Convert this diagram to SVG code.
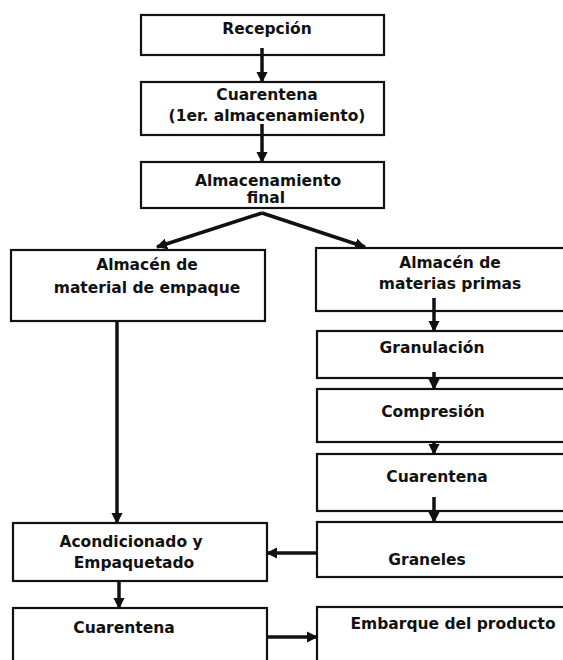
<svg xmlns="http://www.w3.org/2000/svg" width="563" height="660" viewBox="0 0 563 660">
<style>
.box{fill:#fff;stroke:#111;stroke-width:2.2}
.t{font-family:"DejaVu Sans","Liberation Sans",sans-serif;font-weight:bold;font-size:15.5px;fill:#111;text-anchor:middle}
.c{stroke:#111;stroke-width:3.5;fill:none}
</style>
<defs>
<marker id="ah" viewBox="0 0 10 10" refX="9" refY="5" markerWidth="3.2" markerHeight="3.2" orient="auto" markerUnits="strokeWidth">
<path d="M0,0 L10,5 L0,10 z" fill="#111"/>
</marker>
</defs>
<rect width="563" height="660" fill="#fff"/>
<g id="recepcion"><rect class="box" x="141" y="15" width="243" height="40"/><text class="t" x="267" y="34">Recepción</text></g>
<g id="cuarentena1"><rect class="box" x="141" y="82" width="243" height="53"/><text class="t" x="267" y="100">Cuarentena</text><text class="t" x="267" y="121">(1er. almacenamiento)</text></g>
<g id="almfinal"><rect class="box" x="141" y="162" width="243" height="46"/><text class="t" x="268" y="186">Almacenamiento</text><text class="t" x="266" y="203">final</text></g>
<g id="almempaque"><rect class="box" x="11" y="250" width="254" height="71"/><text class="t" x="147" y="270">Almacén de</text><text class="t" x="147" y="293">material de empaque</text></g>
<g id="almprimas"><rect class="box" x="316" y="248" width="260" height="63"/><text class="t" x="450" y="268">Almacén de</text><text class="t" x="450" y="289">materias primas</text></g>
<g id="granulacion"><rect class="box" x="317" y="331" width="260" height="47"/><text class="t" x="432" y="353">Granulación</text></g>
<g id="compresion"><rect class="box" x="317" y="389" width="260" height="53"/><text class="t" x="433" y="417">Compresión</text></g>
<g id="cuarentena2"><rect class="box" x="317" y="454" width="260" height="57"/><text class="t" x="437" y="482">Cuarentena</text></g>
<g id="graneles"><rect class="box" x="317" y="522" width="260" height="55"/><text class="t" x="427" y="565">Graneles</text></g>
<g id="acondicionado"><rect class="box" x="13" y="523" width="254" height="58"/><text class="t" x="131" y="547">Acondicionado y</text><text class="t" x="134" y="568">Empaquetado</text></g>
<g id="cuarentena3"><rect class="box" x="13" y="608" width="254" height="70"/><text class="t" x="124" y="633">Cuarentena</text></g>
<g id="embarque"><rect class="box" x="317" y="607" width="260" height="70"/><text class="t" x="453" y="629">Embarque del producto</text></g>
<g id="connectors">
<line class="c" x1="262" y1="48" x2="262" y2="82" marker-end="url(#ah)"/>
<line class="c" x1="262" y1="124" x2="262" y2="162" marker-end="url(#ah)"/>
<line class="c" x1="262" y1="213" x2="157" y2="247" marker-end="url(#ah)"/>
<line class="c" x1="262" y1="213" x2="365" y2="247" marker-end="url(#ah)"/>
<line class="c" x1="117" y1="321" x2="117" y2="523" marker-end="url(#ah)"/>
<line class="c" x1="434" y1="298" x2="434" y2="331" marker-end="url(#ah)"/>
<line class="c" x1="434" y1="372" x2="434" y2="389" marker-end="url(#ah)"/>
<line class="c" x1="434" y1="442" x2="434" y2="454" marker-end="url(#ah)"/>
<line class="c" x1="434" y1="497" x2="434" y2="522" marker-end="url(#ah)"/>
<line class="c" x1="317" y1="553" x2="267" y2="553" marker-end="url(#ah)"/>
<line class="c" x1="119" y1="581" x2="119" y2="608" marker-end="url(#ah)"/>
<line class="c" x1="267" y1="637" x2="317" y2="637" marker-end="url(#ah)"/>
</g>
</svg>
